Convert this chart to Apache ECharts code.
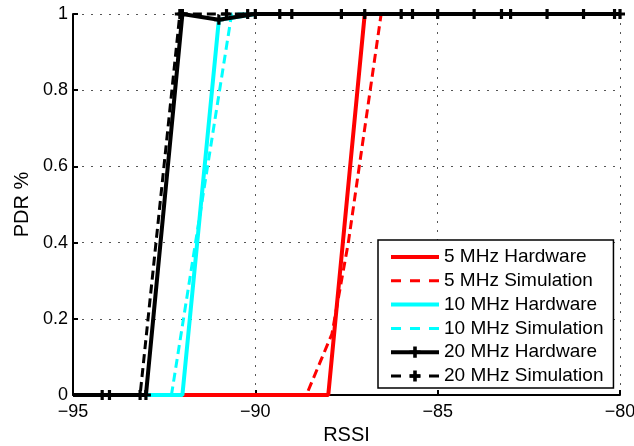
<!DOCTYPE html>
<html>
<head>
<meta charset="utf-8">
<script src="https://cdn.jsdelivr.net/npm/echarts@6/dist/echarts.min.js"></script>
<style>
  html, body { margin: 0; padding: 0; background: #fff; }
  #chart { width: 634px; height: 446px; }
</style>
</head>
<body>
<div id="chart"></div>
<script>
// PDR versus RSSI for three channel widths, hardware measurement vs simulation
const seriesNames = [
  '5 MHz Hardware', '5 MHz Simulation',
  '10 MHz Hardware', '10 MHz Simulation',
  '20 MHz Hardware', '20 MHz Simulation'
];

const rssi5Hw  = [-95, -94, -93, -92, -91, -90, -89, -88, -87, -86, -85, -84, -83, -82, -81, -80];
const pdr5Hw   = [0, 0, 0, 0, 0, 0, 0, 0, 1, 1, 1, 1, 1, 1, 1, 1];

const rssi5Sim = [-95, -88.6, -87.9, -87.45, -86.55, -80];
const pdr5Sim  = [0, 0, 0.16, 0.4, 1, 1];

const rssi10Hw  = [-95, -94, -93, -92, -91, -90, -89, -88, -87, -86, -85, -84, -83, -82, -81, -80];
const pdr10Hw   = [0, 0, 0, 0, 0.985, 1, 1, 1, 1, 1, 1, 1, 1, 1, 1, 1];

const rssi10Sim = [-95, -92.3, -90.65, -80];
const pdr10Sim  = [0, 0, 1, 1];

const rssi20Hw  = [-95, -94, -93, -92, -91, -90, -89, -87, -86, -85, -84, -83, -82, -81, -80];
const pdr20Hw   = [0, 0, 0, 1, 0.985, 1, 1, 1, 1, 1, 1, 1, 1, 1, 1];

const rssi20Sim = [-94.2, -93.16, -92.07, -90.79, -90.21, -89.33, -87.64, -85.69, -83.25, -80.15];
const pdr20Sim  = [0, 0, 1, 1, 1, 1, 1, 1, 1, 1];

const xTicks = { min: -95, max: -80, step: 5 };
const yTicks = { min: 0, max: 1, step: 0.2 };

const FONT = '"Liberation Sans", Arial, Helvetica, sans-serif';
const RED = '#ff0000', CYAN = '#00ffff', BLACK = '#000000';
const SOLID_W = 4, DASH_W = 3, DASH = [9, 5];
const PLUS = 'path://M3.4,0 H6.6 V3.4 H10 V6.6 H6.6 V10 H3.4 V6.6 H0 V3.4 H3.4 Z';

function pairs(xs, ys) {
  return xs.map((x, i) => [x, ys[i]]);
}

function lineSeries(name, xs, ys, color, dashed, markers) {
  let data = pairs(xs, ys);
  if (markers) {
    // leave the point sitting on the y axis without a marker
    data = data.map(p => p[0] === xTicks.min ? { value: p, symbol: 'none' } : p);
  }
  return {
    name: name,
    type: 'line',
    data: data,
    clip: false,
    animation: false,
    showSymbol: !!markers,
    symbol: markers ? PLUS : 'none',
    symbolSize: 10,
    itemStyle: { color: color },
    lineStyle: { color: color, width: dashed ? DASH_W : SOLID_W, type: dashed ? DASH : 'solid' },
    emphasis: { disabled: true }
  };
}

const minusFmt = v => (v < 0 ? '\u2212' + Math.abs(v) : String(v));

const chart = echarts.init(document.getElementById('chart'), null, { renderer: 'canvas' });

chart.setOption({
  backgroundColor: '#ffffff',
  animation: false,
  grid: { left: 73, right: 14, top: 14, bottom: 51, containLabel: false, outerBoundsMode: 'none' },
  xAxis: {
    type: 'value',
    min: xTicks.min, max: xTicks.max, interval: xTicks.step,
    name: 'RSSI',
    nameLocation: 'middle',
    nameGap: 26,
    nameTextStyle: { fontFamily: FONT, fontSize: 20, color: BLACK },
    axisLine: { show: true, onZero: false, lineStyle: { color: BLACK, width: 2 } },
    axisTick: { show: true, inside: true, length: 5, lineStyle: { color: BLACK, width: 2 } },
    axisLabel: { fontFamily: FONT, fontSize: 18, color: BLACK, margin: 8, formatter: minusFmt },
    splitLine: { show: true, lineStyle: { color: '#555555', width: 1, type: [2, 7] } }
  },
  yAxis: {
    type: 'value',
    min: yTicks.min, max: yTicks.max, interval: yTicks.step,
    name: 'PDR %',
    nameLocation: 'middle',
    nameGap: 41,
    nameTextStyle: { fontFamily: FONT, fontSize: 20, color: BLACK },
    axisLine: { show: true, onZero: false, lineStyle: { color: BLACK, width: 2 } },
    axisTick: { show: true, inside: true, length: 5, lineStyle: { color: BLACK, width: 2 } },
    axisLabel: { fontFamily: FONT, fontSize: 18, color: BLACK, margin: 5 },
    splitLine: { show: true, lineStyle: { color: '#555555', width: 1, type: [2, 7] } }
  },
  legend: {
    orient: 'vertical',
    left: 378,
    top: 240,
    padding: [7, 10, 2, 11],
    itemWidth: 48,
    itemHeight: 14,
    itemGap: 3.8,
    backgroundColor: '#ffffff',
    borderColor: BLACK,
    borderWidth: 1.5,
    borderRadius: 0,
    selectedMode: false,
    textStyle: { fontFamily: FONT, fontSize: 19, color: BLACK, lineHeight: 20 },
    data: [
      { name: seriesNames[0], lineStyle: { width: SOLID_W }, itemStyle: { opacity: 0 } },
      { name: seriesNames[1], lineStyle: { width: DASH_W, type: [10, 9] }, itemStyle: { opacity: 0 } },
      { name: seriesNames[2], lineStyle: { width: SOLID_W }, itemStyle: { opacity: 0 } },
      { name: seriesNames[3], lineStyle: { width: DASH_W, type: [10, 9] }, itemStyle: { opacity: 0 } },
      { name: seriesNames[4], lineStyle: { width: SOLID_W } },
      { name: seriesNames[5], lineStyle: { width: DASH_W, type: [10, 9] } }
    ]
  },
  series: [
    lineSeries(seriesNames[0], rssi5Hw, pdr5Hw, RED, false, false),
    lineSeries(seriesNames[1], rssi5Sim, pdr5Sim, RED, true, false),
    lineSeries(seriesNames[2], rssi10Hw, pdr10Hw, CYAN, false, false),
    lineSeries(seriesNames[3], rssi10Sim, pdr10Sim, CYAN, true, false),
    lineSeries(seriesNames[4], rssi20Hw, pdr20Hw, BLACK, false, true),
    lineSeries(seriesNames[5], rssi20Sim, pdr20Sim, BLACK, true, true)
  ]
});
</script>
</body>
</html>
